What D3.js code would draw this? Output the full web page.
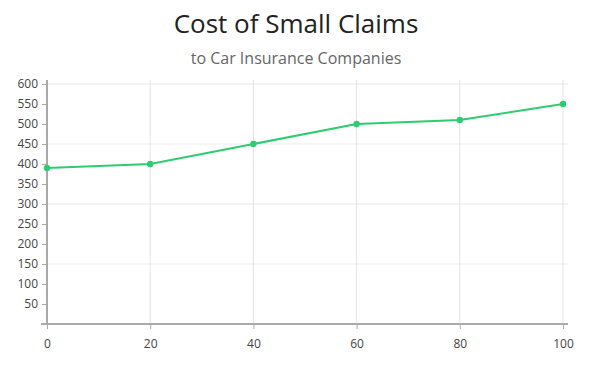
<!DOCTYPE html>
<html>
<head>
<meta charset="utf-8">
<script src="https://cdn.jsdelivr.net/npm/d3@7"></script>
<style>
  body { margin: 0; background: #fff; font-family: "Open Sans", sans-serif; }
  .grid line { stroke: #ebebeb; stroke-width: 1; }
  .tick text { fill: #444; font-size: 12px; font-family: "Open Sans", sans-serif; }
</style>
</head>
<body>
<script>
const width = 592,
  height = 379;

// data
const xValues = [0, 20, 40, 60, 80, 100];
const costs = [390, 400, 450, 500, 510, 550];
const yTicks = [50, 100, 150, 200, 250, 300, 350, 400, 450, 500, 550, 600];
const yGridTicks = [150, 300, 450, 600];
const xTicks = [0, 20, 40, 60, 80, 100];

const margin = { left: 47, right: 29, top: 80, bottom: 55 };

const x = d3.scaleLinear().domain([0, 100]).range([margin.left, width - margin.right]);
const y = d3.scaleLinear().domain([0, 610]).range([height - margin.bottom, margin.top]);

const svg = d3.select('body').append('svg')
  .attr('width', width)
  .attr('height', height);

// title
svg.append('text')
  .attr('x', width / 2).attr('y', 33)
  .attr('text-anchor', 'middle')
  .style('font-size', '26px').style('fill', '#222')
  .text('Cost of Small Claims');
svg.append('text')
  .attr('x', width / 2).attr('y', 64)
  .attr('text-anchor', 'middle')
  .style('font-size', '16px').style('fill', '#666')
  .text('to Car Insurance Companies');

// grid
const grid = svg.append('g').attr('class', 'grid');
grid.selectAll('.hg').data(yGridTicks).join('line')
  .attr('x1', margin.left).attr('x2', width - margin.right + 5)
  .attr('y1', d => y(d)).attr('y2', d => y(d));
grid.selectAll('.vg').data(xTicks.slice(1)).join('line')
  .attr('x1', d => x(d)).attr('x2', d => x(d))
  .attr('y1', margin.top).attr('y2', y(0))
  .style('stroke', '#e3e3e3');

// y axis
const yAxis = svg.append('g')
  .attr('transform', `translate(${margin.left},0)`)
  .call(d3.axisLeft(y).tickValues(yTicks).tickSize(5).tickPadding(4));
yAxis.select('.domain').attr('d', `M0,${margin.top}V${y(0)}`).style('stroke', '#555');
yAxis.selectAll('.tick line').style('stroke', '#aaa');

// x axis
const xAxis = svg.append('g')
  .attr('transform', `translate(0,${y(0)})`)
  .call(d3.axisBottom(x).tickValues(xTicks).tickSize(5).tickPadding(10));
xAxis.select('.domain')
  .attr('d', `M${margin.left - 6},0H${width - margin.right + 5}`)
  .style('stroke', '#aaa').style('stroke-width', 2);
xAxis.selectAll('.tick line').style('stroke', '#aaa');

// line
const data = xValues.map((d, i) => ({ x: d, y: costs[i] }));
const line = d3.line().x(d => x(d.x)).y(d => y(d.y));

svg.append('path')
  .datum(data)
  .attr('d', line)
  .attr('fill', 'none')
  .attr('stroke', '#2ecc71')
  .attr('stroke-width', 2);

svg.selectAll('.dot').data(data).join('circle')
  .attr('cx', d => x(d.x)).attr('cy', d => y(d.y))
  .attr('r', 3.2)
  .attr('fill', '#2ecc71');
</script>
</body>
</html>
